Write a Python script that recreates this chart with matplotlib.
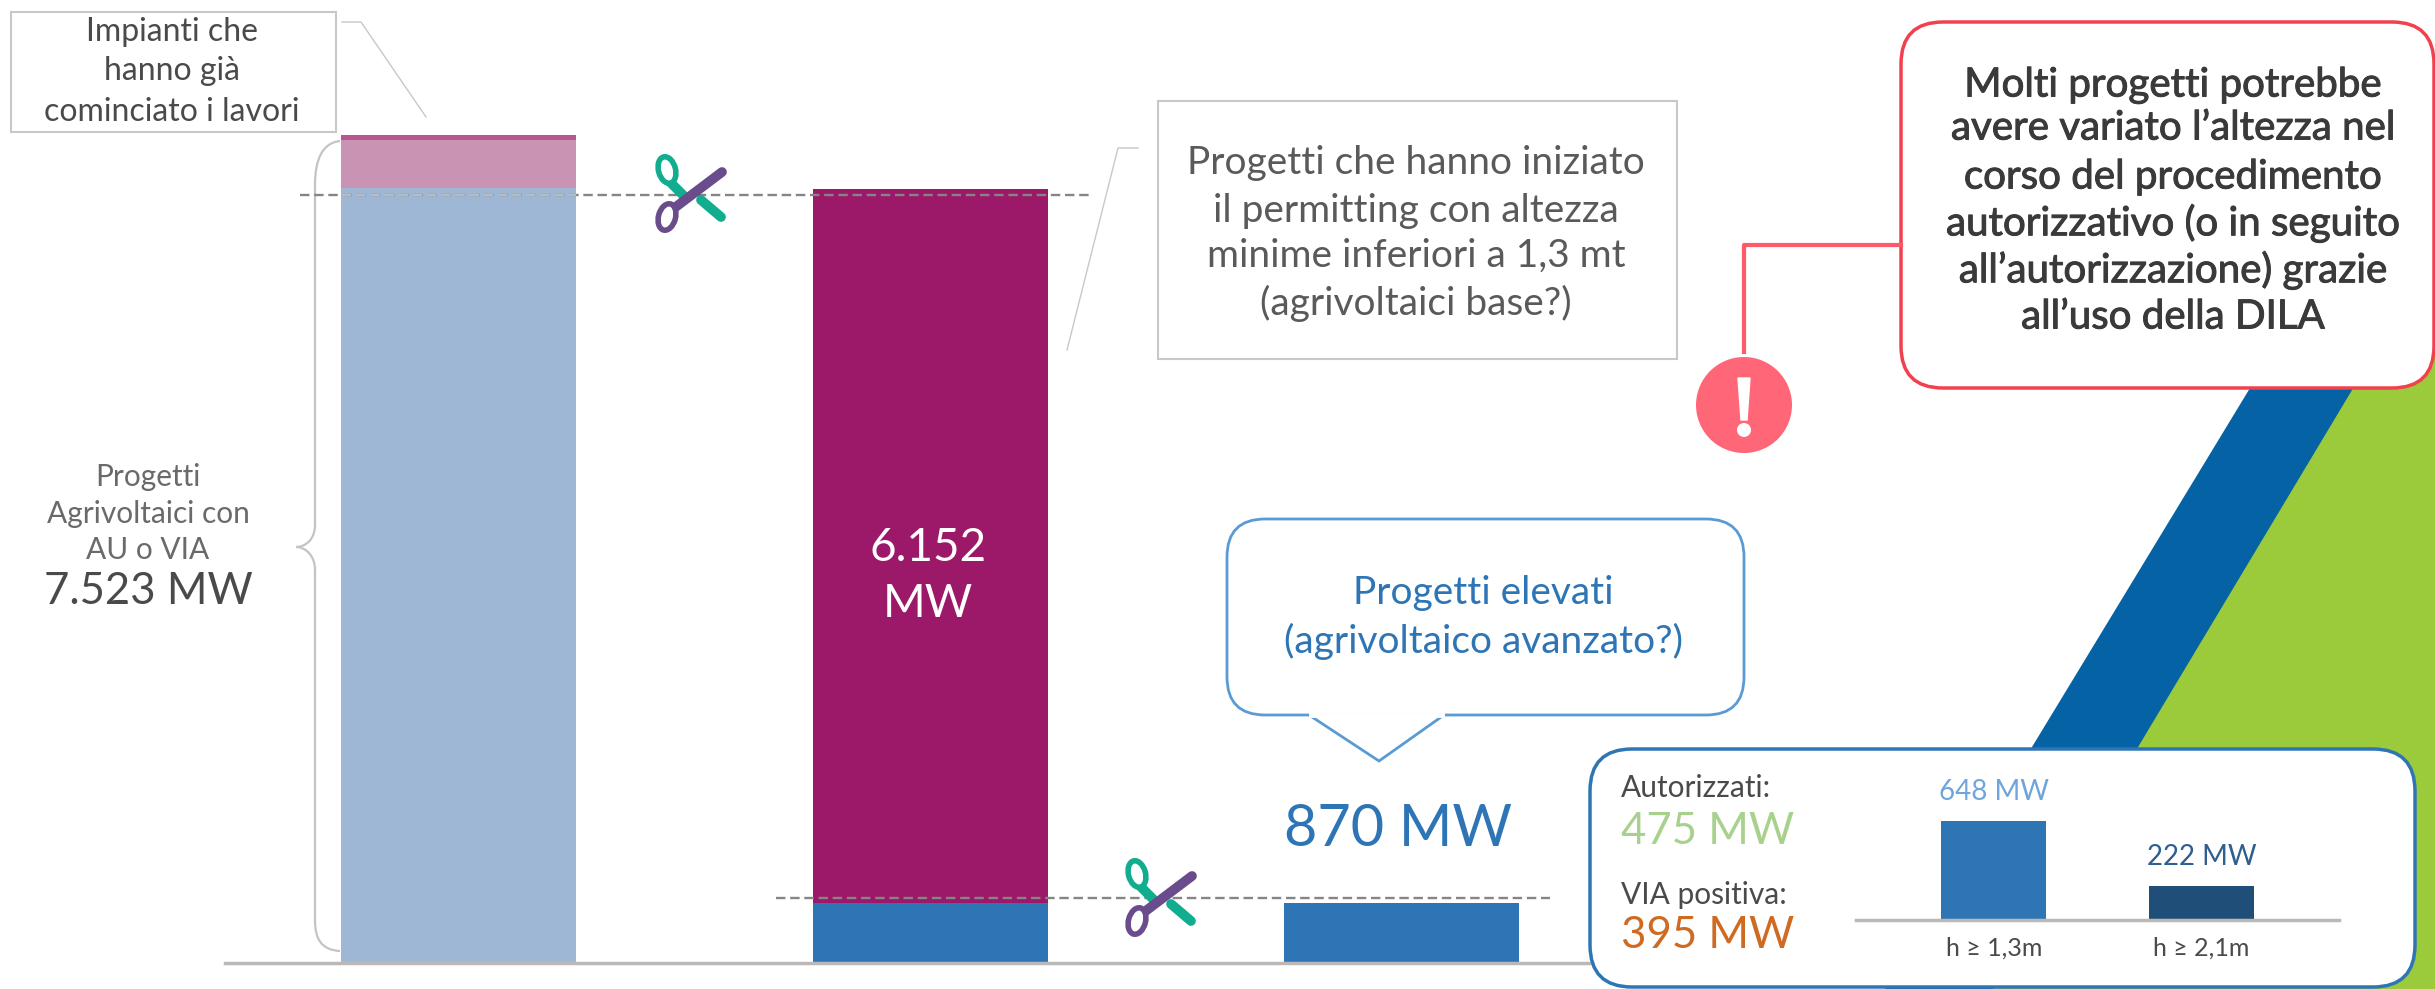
import matplotlib
matplotlib.use('Agg')
import matplotlib.pyplot as plt
import matplotlib.patheffects as pe
from matplotlib.patches import FancyBboxPatch, Polygon, Ellipse, Rectangle, PathPatch, Circle
from matplotlib.path import Path

plt.rcParams['font.family'] = ['Lato', 'DejaVu Sans']

W, H = 2435, 989

# altezze disegnate delle barre (il grafico originale non e' in scala coi valori scritti)
bar_pos = [0, 1, 2]
base_blue = [0, 582, 582]
light_blue = [7523, 0, 0]
pink = [466, 0, 0]
pink_dark = [49, 0, 0]
purple = [0, 6931, 0]

label_total = '7.523 MW'
label_base = '6.152\nMW'
label_elev = '870 MW'

inset_labels = ['h ≥ 1,3m', 'h ≥ 2,1m']
inset_values = [648, 222]
inset_texts = ['648 MW', '222 MW']
inset_colors = ['#2E75B6', '#1F4E79']
inset_text_colors = ['#6FA5DA', '#2F5F8F']

BLUE = '#2E75B6'
GREY_TXT = '#4A4A4A'


def axes_px(x0, y0, x1, y1, **kw):
    # rettangolo in pixel dell'immagine (y verso il basso)
    return fig.add_axes([x0 / W, 1 - y1 / H, (x1 - x0) / W, (y1 - y0) / H], **kw)


fig = plt.figure(figsize=(W / 100, H / 100), dpi=100, facecolor='white')

# sfondo: fasce diagonali
bg = axes_px(0, 0, W, H, zorder=0)
bg.set_xlim(0, W)
bg.set_ylim(H, 0)
bg.axis('off')
bg.add_patch(Polygon([[2346, 230], [2435, 230], [2435, 989], [1885, 989]], color='#0563A5', lw=0))
bg.add_patch(Polygon([[2448, 230], [2435, 230], [2435, 989], [1993, 989]], color='#9BCB3B', lw=0))

# barre principali
ax = axes_px(225, 100, 1590, 963, zorder=1)
ax.patch.set_alpha(0)
ax.set_xlim(-0.496, 2.399)
ax.set_ylim(0, 8377)
w = 0.498
ax.bar(bar_pos, base_blue, w, color=BLUE)
ax.bar(bar_pos, light_blue, w, color='#9DB7D4')
ax.bar(bar_pos, pink, w, bottom=light_blue, color='#C993B4')
ax.bar(bar_pos, pink_dark, w, bottom=[a + b for a, b in zip(light_blue, pink)], color='#B9558F')
ax.bar(bar_pos, purple, w, bottom=base_blue, color='#9C1868')
for s in ['top', 'left', 'right']:
    ax.spines[s].set_visible(False)
ax.spines['bottom'].set_color('#BDB8B8')
ax.spines['bottom'].set_linewidth(2.5)
ax.set_xticks([])
ax.set_yticks([])

# annotazioni
top = axes_px(0, 0, W, H, zorder=2)
top.patch.set_alpha(0)
top.set_xlim(0, W)
top.set_ylim(H, 0)
top.axis('off')

# linee tratteggiate
dash = (0, (4, 2))
top.plot([300, 1093], [195, 195], ls=dash, color='#858585', lw=1.7)
top.plot([342, 576], [195, 195], ls=dash, color='#B8BCC2', lw=1.7)
top.plot([776, 1550], [898, 898], ls=dash, color='#858585', lw=1.7)

# parentesi graffa
brace = Path([(340, 141), (322, 143), (315, 160), (315, 185), (315, 525), (315, 540), (305, 547), (296, 547),
              (305, 547), (315, 555), (315, 570), (315, 920), (315, 940), (322, 950), (340, 951)],
             [Path.MOVETO, Path.CURVE4, Path.CURVE4, Path.CURVE4, Path.LINETO, Path.CURVE4, Path.CURVE4, Path.CURVE4,
              Path.CURVE4, Path.CURVE4, Path.CURVE4, Path.LINETO, Path.CURVE4, Path.CURVE4, Path.CURVE4])
top.add_patch(PathPatch(brace, fc='none', ec='#C4C4C4', lw=1.6))


def scissors(cx, cy):
    top.plot([cx - 24, cx - 4], [cy - 18, cy + 2], color='#12AD8E', lw=7, solid_capstyle='round')
    top.plot([cx + 12, cx + 32], [cy + 5, cy + 22], color='#12AD8E', lw=7, solid_capstyle='round')
    top.add_patch(Ellipse((cx - 22, cy - 25), 17, 27, angle=-15, fc='white', ec='#12AD8E', lw=4, zorder=3))
    top.plot([cx - 16, cx + 33], [cy + 14, cy - 23], color='#6A4C8C', lw=7, solid_capstyle='round', zorder=4)
    top.add_patch(Ellipse((cx - 22, cy + 22), 17, 27, angle=15, fc='white', ec='#6A4C8C', lw=4, zorder=4))


scissors(689, 195)
scissors(1159, 899)

# box "Impianti"
top.add_patch(Rectangle((11, 12), 325, 120, fc='white', ec='#C8C8C8', lw=1.5))
top.plot([342, 361, 426], [22, 22, 117], color='#C8C8C8', lw=1)
for y, t in zip([32, 71, 112], ['Impianti che', 'hanno già', 'cominciato i lavori']):
    top.text(172, y, t, ha='center', va='center', fontsize=23, color=GREY_TXT)

# box permitting
top.add_patch(Rectangle((1158, 101), 519, 258, fc='white', ec='#C8C8C8', lw=1.5))
top.plot([1138, 1118, 1067], [148, 148, 350], color='#C8C8C8', lw=1)
perm = ['Progetti che hanno iniziato', 'il permitting con altezza', 'minime inferiori a 1,3 mt', '(agrivoltaici base?)']
for y, t in zip([163, 211, 256, 303], perm):
    top.text(1416, y, t, ha='center', va='center', fontsize=28, color='#5A5A5A')

# etichetta sinistra
for y, t in zip([477, 514, 550], ['Progetti', 'Agrivoltaici con', 'AU o VIA']):
    top.text(148, y, t, ha='center', va='center', fontsize=21.5, color='#6A6A6A')
top.text(148, 592, label_total, ha='center', va='center', fontsize=31.5, color=GREY_TXT)

# etichette barre
for y, t in zip([548, 604], label_base.split('\n')):
    top.text(928, y, t, ha='center', va='center', fontsize=33, color='white')
top.text(1398, 829, label_elev, ha='center', va='center', fontsize=41.5, color=BLUE)

# fumetto progetti elevati
top.add_patch(FancyBboxPatch((1227, 519), 517, 196, boxstyle='round,pad=0,rounding_size=38', fc='white', ec='#5B9BD5', lw=2))
top.add_patch(Polygon([[1309, 715], [1379, 761], [1444, 715]], closed=False, fc='white', ec='#5B9BD5', lw=2))
top.plot([1311, 1442], [715, 715], color='white', lw=3.5)
for y, t in zip([593, 641], ['Progetti elevati', '(agrivoltaico avanzato?)']):
    top.text(1483, y, t, ha='center', va='center', fontsize=28, color=BLUE)

# box rosso
top.plot([1901, 1744, 1744], [245, 245, 352], color='#FF5A68', lw=3)
top.add_patch(FancyBboxPatch((1901, 22), 533, 366, boxstyle='round,pad=0,rounding_size=42', fc='white', ec='#F2404E', lw=2.5))
msg = ['Molti progetti potrebbe', 'avere variato l’altezza nel', 'corso del procedimento',
       'autorizzativo (o in seguito', 'all’autorizzazione) grazie', 'all’uso della DILA']
for y, t in zip([85, 128, 177, 223, 270, 317], msg):
    top.text(2173, y, t, ha='center', va='center', fontsize=29, color='#3A3A3A',
             path_effects=[pe.withStroke(linewidth=0.7, foreground='#3A3A3A')])
top.add_patch(Circle((1744, 405), 48, fc='#FF6678', ec='none'))
top.add_patch(Polygon([[1738, 378], [1750, 378], [1747, 420], [1741, 420]], fc='white', ec='white', lw=1, zorder=5))
top.add_patch(Circle((1744, 430), 7, fc='white', ec='none', zorder=5))

# riquadro con il dettaglio
top.add_patch(FancyBboxPatch((1590, 749), 825, 238, boxstyle='round,pad=0,rounding_size=42', fc='white', ec=BLUE, lw=2.5, zorder=6))
top.text(1621, 788, 'Autorizzati:', va='center', fontsize=21.5, color=GREY_TXT, zorder=7)
top.text(1621, 831, '475 MW', va='center', fontsize=31.5, color='#A9D18E', zorder=7)
top.text(1621, 895, 'VIA positiva:', va='center', fontsize=21.5, color=GREY_TXT, zorder=7)
top.text(1621, 936, '395 MW', va='center', fontsize=31.5, color='#CF6A22', zorder=7)

ins = axes_px(1856, 800, 2339, 920, zorder=3)
ins.patch.set_alpha(0)
ins.set_xlim(-0.665, 1.663)
ins.set_ylim(0, 785)
ins.bar([0, 1], inset_values, 0.506, color=inset_colors)
for s in ['top', 'left', 'right']:
    ins.spines[s].set_visible(False)
ins.spines['bottom'].set_color('#BDB8B8')
ins.spines['bottom'].set_linewidth(2.5)
ins.set_yticks([])
ins.set_xticks([0, 1], inset_labels, fontsize=18, color=GREY_TXT)
ins.tick_params(axis='x', length=0, pad=12)
for i, v in enumerate(inset_values):
    ins.annotate(inset_texts[i], (i, v), xytext=(0, 21), textcoords='offset points', ha='center', va='center',
                 fontsize=20, color=inset_text_colors[i])

fig.savefig('out.png', dpi=100)
